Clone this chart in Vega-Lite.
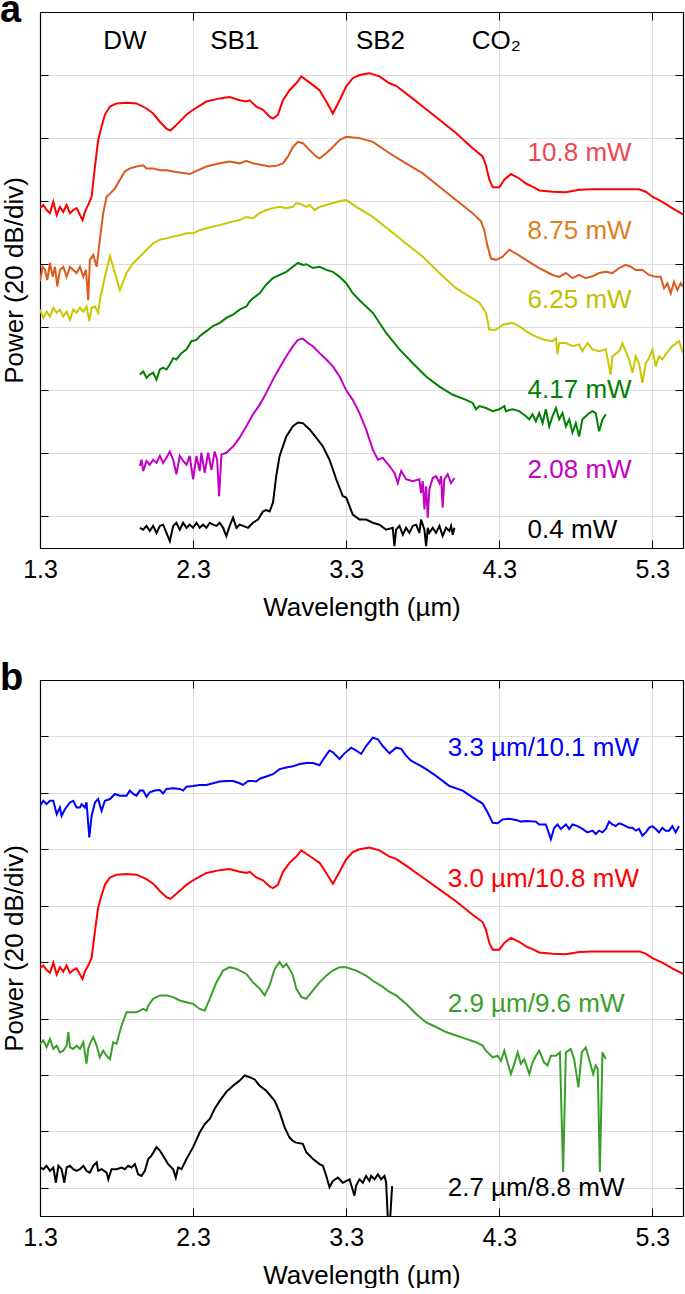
{
  "$schema": "https://vega.github.io/schema/vega-lite/v6.json",
  "background": "white",
  "padding": {"left": 0, "top": -8, "right": 2, "bottom": 0},
  "spacing": 40,
  "config": {
    "view": {"stroke": null},
    "font": "Liberation Sans",
    "axis": {
      "domainColor": "#000000", "domainWidth": 1.2,
      "tickColor": "#000000", "tickWidth": 1, "tickSize": -8,
      "gridColor": "#dedede", "gridWidth": 1,
      "labelFont": "Liberation Sans", "labelFontSize": 25, "labelColor": "#000000", "labelPadding": 17, "labelFlush": false,
      "titleFont": "Liberation Sans", "titleFontSize": 26, "titleFontWeight": "normal", "titleColor": "#000000"
    }
  },
  "datasets": {
    "a_curves": [
      {"wl":1.300,"p":4.89,"s":"10.8 mW"},{"wl":1.322,"p":4.94,"s":"10.8 mW"},{"wl":1.343,"p":4.86,"s":"10.8 mW"},{"wl":1.365,"p":4.81,"s":"10.8 mW"},{"wl":1.387,"p":4.99,"s":"10.8 mW"},{"wl":1.409,"p":4.78,"s":"10.8 mW"},{"wl":1.430,"p":4.91,"s":"10.8 mW"},{"wl":1.452,"p":4.83,"s":"10.8 mW"},{"wl":1.474,"p":4.94,"s":"10.8 mW"},{"wl":1.496,"p":4.81,"s":"10.8 mW"},{"wl":1.517,"p":4.86,"s":"10.8 mW"},{"wl":1.539,"p":4.89,"s":"10.8 mW"},{"wl":1.561,"p":4.78,"s":"10.8 mW"},{"wl":1.578,"p":4.70,"s":"10.8 mW"},{"wl":1.593,"p":4.83,"s":"10.8 mW"},{"wl":1.615,"p":4.94,"s":"10.8 mW"},{"wl":1.637,"p":5.07,"s":"10.8 mW"},{"wl":1.659,"p":5.55,"s":"10.8 mW"},{"wl":1.680,"p":5.97,"s":"10.8 mW"},{"wl":1.702,"p":6.18,"s":"10.8 mW"},{"wl":1.724,"p":6.37,"s":"10.8 mW"},{"wl":1.757,"p":6.50,"s":"10.8 mW"},{"wl":1.800,"p":6.55,"s":"10.8 mW"},{"wl":1.865,"p":6.56,"s":"10.8 mW"},{"wl":1.930,"p":6.55,"s":"10.8 mW"},{"wl":1.996,"p":6.47,"s":"10.8 mW"},{"wl":2.039,"p":6.39,"s":"10.8 mW"},{"wl":2.083,"p":6.26,"s":"10.8 mW"},{"wl":2.126,"p":6.15,"s":"10.8 mW"},{"wl":2.152,"p":6.12,"s":"10.8 mW"},{"wl":2.191,"p":6.21,"s":"10.8 mW"},{"wl":2.257,"p":6.37,"s":"10.8 mW"},{"wl":2.300,"p":6.45,"s":"10.8 mW"},{"wl":2.387,"p":6.58,"s":"10.8 mW"},{"wl":2.474,"p":6.63,"s":"10.8 mW"},{"wl":2.539,"p":6.65,"s":"10.8 mW"},{"wl":2.604,"p":6.60,"s":"10.8 mW"},{"wl":2.648,"p":6.58,"s":"10.8 mW"},{"wl":2.670,"p":6.60,"s":"10.8 mW"},{"wl":2.713,"p":6.50,"s":"10.8 mW"},{"wl":2.757,"p":6.45,"s":"10.8 mW"},{"wl":2.800,"p":6.34,"s":"10.8 mW"},{"wl":2.822,"p":6.31,"s":"10.8 mW"},{"wl":2.854,"p":6.37,"s":"10.8 mW"},{"wl":2.887,"p":6.60,"s":"10.8 mW"},{"wl":2.930,"p":6.76,"s":"10.8 mW"},{"wl":2.974,"p":6.87,"s":"10.8 mW"},{"wl":3.007,"p":6.98,"s":"10.8 mW"},{"wl":3.039,"p":6.92,"s":"10.8 mW"},{"wl":3.083,"p":6.84,"s":"10.8 mW"},{"wl":3.126,"p":6.76,"s":"10.8 mW"},{"wl":3.170,"p":6.58,"s":"10.8 mW"},{"wl":3.213,"p":6.39,"s":"10.8 mW"},{"wl":3.257,"p":6.60,"s":"10.8 mW"},{"wl":3.300,"p":6.82,"s":"10.8 mW"},{"wl":3.343,"p":6.95,"s":"10.8 mW"},{"wl":3.387,"p":7.00,"s":"10.8 mW"},{"wl":3.452,"p":7.03,"s":"10.8 mW"},{"wl":3.517,"p":6.98,"s":"10.8 mW"},{"wl":3.583,"p":6.87,"s":"10.8 mW"},{"wl":3.626,"p":6.83,"s":"10.8 mW"},{"wl":3.691,"p":6.71,"s":"10.8 mW"},{"wl":3.800,"p":6.50,"s":"10.8 mW"},{"wl":3.909,"p":6.29,"s":"10.8 mW"},{"wl":4.017,"p":6.08,"s":"10.8 mW"},{"wl":4.126,"p":5.84,"s":"10.8 mW"},{"wl":4.191,"p":5.71,"s":"10.8 mW"},{"wl":4.213,"p":5.57,"s":"10.8 mW"},{"wl":4.235,"p":5.34,"s":"10.8 mW"},{"wl":4.257,"p":5.22,"s":"10.8 mW"},{"wl":4.300,"p":5.22,"s":"10.8 mW"},{"wl":4.333,"p":5.34,"s":"10.8 mW"},{"wl":4.376,"p":5.43,"s":"10.8 mW"},{"wl":4.430,"p":5.36,"s":"10.8 mW"},{"wl":4.474,"p":5.28,"s":"10.8 mW"},{"wl":4.517,"p":5.23,"s":"10.8 mW"},{"wl":4.561,"p":5.17,"s":"10.8 mW"},{"wl":4.648,"p":5.15,"s":"10.8 mW"},{"wl":4.735,"p":5.14,"s":"10.8 mW"},{"wl":4.822,"p":5.18,"s":"10.8 mW"},{"wl":4.909,"p":5.19,"s":"10.8 mW"},{"wl":4.996,"p":5.19,"s":"10.8 mW"},{"wl":5.126,"p":5.19,"s":"10.8 mW"},{"wl":5.213,"p":5.19,"s":"10.8 mW"},{"wl":5.257,"p":5.15,"s":"10.8 mW"},{"wl":5.300,"p":5.07,"s":"10.8 mW"},{"wl":5.365,"p":4.99,"s":"10.8 mW"},{"wl":5.430,"p":4.89,"s":"10.8 mW"},{"wl":5.500,"p":4.79,"s":"10.8 mW"},

      {"wl":1.300,"p":3.73,"s":"8.75 mW"},{"wl":1.317,"p":3.96,"s":"8.75 mW"},{"wl":1.333,"p":3.91,"s":"8.75 mW"},{"wl":1.348,"p":3.75,"s":"8.75 mW"},{"wl":1.365,"p":4.02,"s":"8.75 mW"},{"wl":1.383,"p":3.80,"s":"8.75 mW"},{"wl":1.398,"p":3.96,"s":"8.75 mW"},{"wl":1.413,"p":3.65,"s":"8.75 mW"},{"wl":1.430,"p":3.91,"s":"8.75 mW"},{"wl":1.452,"p":3.96,"s":"8.75 mW"},{"wl":1.474,"p":3.80,"s":"8.75 mW"},{"wl":1.496,"p":3.96,"s":"8.75 mW"},{"wl":1.517,"p":3.91,"s":"8.75 mW"},{"wl":1.539,"p":3.86,"s":"8.75 mW"},{"wl":1.561,"p":3.96,"s":"8.75 mW"},{"wl":1.583,"p":3.80,"s":"8.75 mW"},{"wl":1.600,"p":3.91,"s":"8.75 mW"},{"wl":1.615,"p":3.43,"s":"8.75 mW"},{"wl":1.626,"p":4.07,"s":"8.75 mW"},{"wl":1.648,"p":4.15,"s":"8.75 mW"},{"wl":1.670,"p":3.96,"s":"8.75 mW"},{"wl":1.691,"p":4.39,"s":"8.75 mW"},{"wl":1.713,"p":4.81,"s":"8.75 mW"},{"wl":1.735,"p":5.07,"s":"8.75 mW"},{"wl":1.757,"p":5.12,"s":"8.75 mW"},{"wl":1.789,"p":5.20,"s":"8.75 mW"},{"wl":1.822,"p":5.34,"s":"8.75 mW"},{"wl":1.854,"p":5.47,"s":"8.75 mW"},{"wl":1.887,"p":5.52,"s":"8.75 mW"},{"wl":1.930,"p":5.55,"s":"8.75 mW"},{"wl":1.974,"p":5.57,"s":"8.75 mW"},{"wl":1.996,"p":5.52,"s":"8.75 mW"},{"wl":2.039,"p":5.52,"s":"8.75 mW"},{"wl":2.083,"p":5.49,"s":"8.75 mW"},{"wl":2.126,"p":5.49,"s":"8.75 mW"},{"wl":2.170,"p":5.47,"s":"8.75 mW"},{"wl":2.224,"p":5.45,"s":"8.75 mW"},{"wl":2.278,"p":5.43,"s":"8.75 mW"},{"wl":2.322,"p":5.48,"s":"8.75 mW"},{"wl":2.387,"p":5.55,"s":"8.75 mW"},{"wl":2.474,"p":5.60,"s":"8.75 mW"},{"wl":2.539,"p":5.63,"s":"8.75 mW"},{"wl":2.604,"p":5.60,"s":"8.75 mW"},{"wl":2.648,"p":5.64,"s":"8.75 mW"},{"wl":2.691,"p":5.60,"s":"8.75 mW"},{"wl":2.757,"p":5.57,"s":"8.75 mW"},{"wl":2.800,"p":5.55,"s":"8.75 mW"},{"wl":2.843,"p":5.56,"s":"8.75 mW"},{"wl":2.887,"p":5.60,"s":"8.75 mW"},{"wl":2.920,"p":5.71,"s":"8.75 mW"},{"wl":2.952,"p":5.86,"s":"8.75 mW"},{"wl":2.985,"p":5.94,"s":"8.75 mW"},{"wl":3.017,"p":5.92,"s":"8.75 mW"},{"wl":3.061,"p":5.81,"s":"8.75 mW"},{"wl":3.104,"p":5.71,"s":"8.75 mW"},{"wl":3.126,"p":5.68,"s":"8.75 mW"},{"wl":3.170,"p":5.76,"s":"8.75 mW"},{"wl":3.213,"p":5.86,"s":"8.75 mW"},{"wl":3.257,"p":5.97,"s":"8.75 mW"},{"wl":3.300,"p":6.02,"s":"8.75 mW"},{"wl":3.387,"p":6.00,"s":"8.75 mW"},{"wl":3.474,"p":5.94,"s":"8.75 mW"},{"wl":3.583,"p":5.76,"s":"8.75 mW"},{"wl":3.691,"p":5.60,"s":"8.75 mW"},{"wl":3.800,"p":5.44,"s":"8.75 mW"},{"wl":3.909,"p":5.23,"s":"8.75 mW"},{"wl":4.017,"p":5.02,"s":"8.75 mW"},{"wl":4.126,"p":4.81,"s":"8.75 mW"},{"wl":4.180,"p":4.68,"s":"8.75 mW"},{"wl":4.202,"p":4.54,"s":"8.75 mW"},{"wl":4.224,"p":4.28,"s":"8.75 mW"},{"wl":4.246,"p":4.09,"s":"8.75 mW"},{"wl":4.278,"p":4.07,"s":"8.75 mW"},{"wl":4.322,"p":4.12,"s":"8.75 mW"},{"wl":4.365,"p":4.23,"s":"8.75 mW"},{"wl":4.409,"p":4.17,"s":"8.75 mW"},{"wl":4.474,"p":4.07,"s":"8.75 mW"},{"wl":4.561,"p":3.94,"s":"8.75 mW"},{"wl":4.648,"p":3.83,"s":"8.75 mW"},{"wl":4.691,"p":3.80,"s":"8.75 mW"},{"wl":4.735,"p":3.86,"s":"8.75 mW"},{"wl":4.778,"p":3.78,"s":"8.75 mW"},{"wl":4.822,"p":3.83,"s":"8.75 mW"},{"wl":4.865,"p":3.78,"s":"8.75 mW"},{"wl":4.909,"p":3.81,"s":"8.75 mW"},{"wl":4.952,"p":3.86,"s":"8.75 mW"},{"wl":4.996,"p":3.88,"s":"8.75 mW"},{"wl":5.039,"p":3.86,"s":"8.75 mW"},{"wl":5.083,"p":3.94,"s":"8.75 mW"},{"wl":5.126,"p":3.99,"s":"8.75 mW"},{"wl":5.159,"p":3.96,"s":"8.75 mW"},{"wl":5.191,"p":3.91,"s":"8.75 mW"},{"wl":5.235,"p":3.91,"s":"8.75 mW"},{"wl":5.278,"p":3.83,"s":"8.75 mW"},{"wl":5.322,"p":3.80,"s":"8.75 mW"},{"wl":5.354,"p":3.80,"s":"8.75 mW"},{"wl":5.376,"p":3.62,"s":"8.75 mW"},{"wl":5.398,"p":3.70,"s":"8.75 mW"},{"wl":5.420,"p":3.54,"s":"8.75 mW"},{"wl":5.441,"p":3.72,"s":"8.75 mW"},{"wl":5.463,"p":3.59,"s":"8.75 mW"},{"wl":5.485,"p":3.70,"s":"8.75 mW"},{"wl":5.500,"p":3.65,"s":"8.75 mW"},

      {"wl":1.300,"p":3.28,"s":"6.25 mW"},{"wl":1.322,"p":3.15,"s":"6.25 mW"},{"wl":1.343,"p":3.25,"s":"6.25 mW"},{"wl":1.365,"p":3.17,"s":"6.25 mW"},{"wl":1.387,"p":3.31,"s":"6.25 mW"},{"wl":1.409,"p":3.23,"s":"6.25 mW"},{"wl":1.430,"p":3.28,"s":"6.25 mW"},{"wl":1.452,"p":3.17,"s":"6.25 mW"},{"wl":1.474,"p":3.25,"s":"6.25 mW"},{"wl":1.496,"p":3.12,"s":"6.25 mW"},{"wl":1.517,"p":3.28,"s":"6.25 mW"},{"wl":1.539,"p":3.23,"s":"6.25 mW"},{"wl":1.561,"p":3.31,"s":"6.25 mW"},{"wl":1.583,"p":3.25,"s":"6.25 mW"},{"wl":1.604,"p":3.33,"s":"6.25 mW"},{"wl":1.622,"p":3.10,"s":"6.25 mW"},{"wl":1.637,"p":3.31,"s":"6.25 mW"},{"wl":1.659,"p":3.33,"s":"6.25 mW"},{"wl":1.680,"p":3.23,"s":"6.25 mW"},{"wl":1.691,"p":3.43,"s":"6.25 mW"},{"wl":1.724,"p":3.80,"s":"6.25 mW"},{"wl":1.757,"p":4.13,"s":"6.25 mW"},{"wl":1.789,"p":3.86,"s":"6.25 mW"},{"wl":1.822,"p":3.59,"s":"6.25 mW"},{"wl":1.865,"p":3.86,"s":"6.25 mW"},{"wl":1.909,"p":4.02,"s":"6.25 mW"},{"wl":1.952,"p":4.12,"s":"6.25 mW"},{"wl":1.996,"p":4.23,"s":"6.25 mW"},{"wl":2.039,"p":4.33,"s":"6.25 mW"},{"wl":2.083,"p":4.39,"s":"6.25 mW"},{"wl":2.126,"p":4.41,"s":"6.25 mW"},{"wl":2.170,"p":4.44,"s":"6.25 mW"},{"wl":2.213,"p":4.46,"s":"6.25 mW"},{"wl":2.257,"p":4.49,"s":"6.25 mW"},{"wl":2.300,"p":4.49,"s":"6.25 mW"},{"wl":2.343,"p":4.54,"s":"6.25 mW"},{"wl":2.387,"p":4.57,"s":"6.25 mW"},{"wl":2.430,"p":4.60,"s":"6.25 mW"},{"wl":2.474,"p":4.62,"s":"6.25 mW"},{"wl":2.517,"p":4.65,"s":"6.25 mW"},{"wl":2.561,"p":4.68,"s":"6.25 mW"},{"wl":2.604,"p":4.70,"s":"6.25 mW"},{"wl":2.648,"p":4.75,"s":"6.25 mW"},{"wl":2.691,"p":4.73,"s":"6.25 mW"},{"wl":2.735,"p":4.81,"s":"6.25 mW"},{"wl":2.778,"p":4.86,"s":"6.25 mW"},{"wl":2.822,"p":4.89,"s":"6.25 mW"},{"wl":2.865,"p":4.91,"s":"6.25 mW"},{"wl":2.909,"p":4.89,"s":"6.25 mW"},{"wl":2.952,"p":4.91,"s":"6.25 mW"},{"wl":2.974,"p":4.97,"s":"6.25 mW"},{"wl":2.996,"p":4.96,"s":"6.25 mW"},{"wl":3.039,"p":4.91,"s":"6.25 mW"},{"wl":3.061,"p":4.94,"s":"6.25 mW"},{"wl":3.093,"p":4.86,"s":"6.25 mW"},{"wl":3.126,"p":4.91,"s":"6.25 mW"},{"wl":3.170,"p":4.94,"s":"6.25 mW"},{"wl":3.213,"p":4.97,"s":"6.25 mW"},{"wl":3.257,"p":5.00,"s":"6.25 mW"},{"wl":3.300,"p":5.02,"s":"6.25 mW"},{"wl":3.365,"p":4.91,"s":"6.25 mW"},{"wl":3.474,"p":4.75,"s":"6.25 mW"},{"wl":3.583,"p":4.54,"s":"6.25 mW"},{"wl":3.691,"p":4.33,"s":"6.25 mW"},{"wl":3.800,"p":4.12,"s":"6.25 mW"},{"wl":3.909,"p":3.86,"s":"6.25 mW"},{"wl":4.017,"p":3.62,"s":"6.25 mW"},{"wl":4.170,"p":3.39,"s":"6.25 mW"},{"wl":4.213,"p":3.23,"s":"6.25 mW"},{"wl":4.235,"p":2.96,"s":"6.25 mW"},{"wl":4.278,"p":2.96,"s":"6.25 mW"},{"wl":4.322,"p":3.04,"s":"6.25 mW"},{"wl":4.387,"p":3.07,"s":"6.25 mW"},{"wl":4.430,"p":3.02,"s":"6.25 mW"},{"wl":4.474,"p":2.94,"s":"6.25 mW"},{"wl":4.517,"p":2.88,"s":"6.25 mW"},{"wl":4.561,"p":2.83,"s":"6.25 mW"},{"wl":4.604,"p":2.80,"s":"6.25 mW"},{"wl":4.648,"p":2.78,"s":"6.25 mW"},{"wl":4.670,"p":2.83,"s":"6.25 mW"},{"wl":4.680,"p":2.57,"s":"6.25 mW"},{"wl":4.691,"p":2.75,"s":"6.25 mW"},{"wl":4.735,"p":2.75,"s":"6.25 mW"},{"wl":4.778,"p":2.70,"s":"6.25 mW"},{"wl":4.822,"p":2.73,"s":"6.25 mW"},{"wl":4.843,"p":2.62,"s":"6.25 mW"},{"wl":4.876,"p":2.75,"s":"6.25 mW"},{"wl":4.909,"p":2.65,"s":"6.25 mW"},{"wl":4.952,"p":2.62,"s":"6.25 mW"},{"wl":4.996,"p":2.65,"s":"6.25 mW"},{"wl":5.017,"p":2.38,"s":"6.25 mW"},{"wl":5.028,"p":2.25,"s":"6.25 mW"},{"wl":5.039,"p":2.54,"s":"6.25 mW"},{"wl":5.083,"p":2.62,"s":"6.25 mW"},{"wl":5.104,"p":2.75,"s":"6.25 mW"},{"wl":5.126,"p":2.62,"s":"6.25 mW"},{"wl":5.148,"p":2.49,"s":"6.25 mW"},{"wl":5.170,"p":2.28,"s":"6.25 mW"},{"wl":5.191,"p":2.54,"s":"6.25 mW"},{"wl":5.213,"p":2.43,"s":"6.25 mW"},{"wl":5.235,"p":2.12,"s":"6.25 mW"},{"wl":5.257,"p":2.43,"s":"6.25 mW"},{"wl":5.278,"p":2.51,"s":"6.25 mW"},{"wl":5.300,"p":2.65,"s":"6.25 mW"},{"wl":5.322,"p":2.38,"s":"6.25 mW"},{"wl":5.343,"p":2.54,"s":"6.25 mW"},{"wl":5.365,"p":2.49,"s":"6.25 mW"},{"wl":5.387,"p":2.57,"s":"6.25 mW"},{"wl":5.430,"p":2.70,"s":"6.25 mW"},{"wl":5.474,"p":2.78,"s":"6.25 mW"},{"wl":5.500,"p":2.59,"s":"6.25 mW"},

      {"wl":1.952,"p":2.25,"s":"4.17 mW"},{"wl":1.974,"p":2.30,"s":"4.17 mW"},{"wl":1.996,"p":2.20,"s":"4.17 mW"},{"wl":2.017,"p":2.25,"s":"4.17 mW"},{"wl":2.039,"p":2.28,"s":"4.17 mW"},{"wl":2.061,"p":2.17,"s":"4.17 mW"},{"wl":2.083,"p":2.33,"s":"4.17 mW"},{"wl":2.104,"p":2.36,"s":"4.17 mW"},{"wl":2.126,"p":2.33,"s":"4.17 mW"},{"wl":2.148,"p":2.41,"s":"4.17 mW"},{"wl":2.170,"p":2.51,"s":"4.17 mW"},{"wl":2.191,"p":2.49,"s":"4.17 mW"},{"wl":2.224,"p":2.59,"s":"4.17 mW"},{"wl":2.257,"p":2.65,"s":"4.17 mW"},{"wl":2.289,"p":2.78,"s":"4.17 mW"},{"wl":2.322,"p":2.80,"s":"4.17 mW"},{"wl":2.343,"p":2.86,"s":"4.17 mW"},{"wl":2.387,"p":2.94,"s":"4.17 mW"},{"wl":2.430,"p":3.02,"s":"4.17 mW"},{"wl":2.474,"p":3.07,"s":"4.17 mW"},{"wl":2.517,"p":3.15,"s":"4.17 mW"},{"wl":2.561,"p":3.20,"s":"4.17 mW"},{"wl":2.604,"p":3.28,"s":"4.17 mW"},{"wl":2.648,"p":3.33,"s":"4.17 mW"},{"wl":2.670,"p":3.41,"s":"4.17 mW"},{"wl":2.691,"p":3.46,"s":"4.17 mW"},{"wl":2.735,"p":3.54,"s":"4.17 mW"},{"wl":2.778,"p":3.68,"s":"4.17 mW"},{"wl":2.822,"p":3.78,"s":"4.17 mW"},{"wl":2.865,"p":3.83,"s":"4.17 mW"},{"wl":2.909,"p":3.88,"s":"4.17 mW"},{"wl":2.952,"p":3.96,"s":"4.17 mW"},{"wl":2.985,"p":4.02,"s":"4.17 mW"},{"wl":3.017,"p":3.99,"s":"4.17 mW"},{"wl":3.039,"p":4.00,"s":"4.17 mW"},{"wl":3.083,"p":3.94,"s":"4.17 mW"},{"wl":3.126,"p":3.96,"s":"4.17 mW"},{"wl":3.170,"p":3.91,"s":"4.17 mW"},{"wl":3.213,"p":3.88,"s":"4.17 mW"},{"wl":3.257,"p":3.80,"s":"4.17 mW"},{"wl":3.300,"p":3.70,"s":"4.17 mW"},{"wl":3.343,"p":3.54,"s":"4.17 mW"},{"wl":3.387,"p":3.43,"s":"4.17 mW"},{"wl":3.474,"p":3.23,"s":"4.17 mW"},{"wl":3.561,"p":2.91,"s":"4.17 mW"},{"wl":3.648,"p":2.65,"s":"4.17 mW"},{"wl":3.735,"p":2.43,"s":"4.17 mW"},{"wl":3.822,"p":2.22,"s":"4.17 mW"},{"wl":3.909,"p":2.06,"s":"4.17 mW"},{"wl":3.996,"p":1.93,"s":"4.17 mW"},{"wl":4.083,"p":1.85,"s":"4.17 mW"},{"wl":4.126,"p":1.80,"s":"4.17 mW"},{"wl":4.148,"p":1.70,"s":"4.17 mW"},{"wl":4.170,"p":1.75,"s":"4.17 mW"},{"wl":4.213,"p":1.72,"s":"4.17 mW"},{"wl":4.257,"p":1.67,"s":"4.17 mW"},{"wl":4.300,"p":1.70,"s":"4.17 mW"},{"wl":4.333,"p":1.75,"s":"4.17 mW"},{"wl":4.343,"p":1.67,"s":"4.17 mW"},{"wl":4.387,"p":1.70,"s":"4.17 mW"},{"wl":4.430,"p":1.67,"s":"4.17 mW"},{"wl":4.474,"p":1.59,"s":"4.17 mW"},{"wl":4.496,"p":1.54,"s":"4.17 mW"},{"wl":4.517,"p":1.62,"s":"4.17 mW"},{"wl":4.539,"p":1.51,"s":"4.17 mW"},{"wl":4.561,"p":1.64,"s":"4.17 mW"},{"wl":4.583,"p":1.48,"s":"4.17 mW"},{"wl":4.604,"p":1.70,"s":"4.17 mW"},{"wl":4.626,"p":1.43,"s":"4.17 mW"},{"wl":4.648,"p":1.59,"s":"4.17 mW"},{"wl":4.670,"p":1.72,"s":"4.17 mW"},{"wl":4.691,"p":1.54,"s":"4.17 mW"},{"wl":4.713,"p":1.64,"s":"4.17 mW"},{"wl":4.735,"p":1.43,"s":"4.17 mW"},{"wl":4.757,"p":1.54,"s":"4.17 mW"},{"wl":4.778,"p":1.33,"s":"4.17 mW"},{"wl":4.800,"p":1.48,"s":"4.17 mW"},{"wl":4.822,"p":1.27,"s":"4.17 mW"},{"wl":4.843,"p":1.54,"s":"4.17 mW"},{"wl":4.865,"p":1.59,"s":"4.17 mW"},{"wl":4.887,"p":1.64,"s":"4.17 mW"},{"wl":4.909,"p":1.67,"s":"4.17 mW"},{"wl":4.930,"p":1.64,"s":"4.17 mW"},{"wl":4.952,"p":1.35,"s":"4.17 mW"},{"wl":4.974,"p":1.54,"s":"4.17 mW"},{"wl":4.996,"p":1.62,"s":"4.17 mW"},

      {"wl":1.952,"p":0.80,"s":"2.08 mW"},{"wl":1.963,"p":0.90,"s":"2.08 mW"},{"wl":1.974,"p":0.72,"s":"2.08 mW"},{"wl":1.996,"p":0.88,"s":"2.08 mW"},{"wl":2.017,"p":0.82,"s":"2.08 mW"},{"wl":2.039,"p":0.90,"s":"2.08 mW"},{"wl":2.061,"p":0.85,"s":"2.08 mW"},{"wl":2.083,"p":0.96,"s":"2.08 mW"},{"wl":2.104,"p":0.85,"s":"2.08 mW"},{"wl":2.126,"p":0.93,"s":"2.08 mW"},{"wl":2.148,"p":1.03,"s":"2.08 mW"},{"wl":2.170,"p":0.90,"s":"2.08 mW"},{"wl":2.191,"p":0.67,"s":"2.08 mW"},{"wl":2.213,"p":0.96,"s":"2.08 mW"},{"wl":2.235,"p":0.88,"s":"2.08 mW"},{"wl":2.257,"p":0.82,"s":"2.08 mW"},{"wl":2.278,"p":0.96,"s":"2.08 mW"},{"wl":2.300,"p":0.59,"s":"2.08 mW"},{"wl":2.322,"p":0.96,"s":"2.08 mW"},{"wl":2.343,"p":0.72,"s":"2.08 mW"},{"wl":2.354,"p":1.01,"s":"2.08 mW"},{"wl":2.376,"p":0.69,"s":"2.08 mW"},{"wl":2.398,"p":1.01,"s":"2.08 mW"},{"wl":2.420,"p":0.74,"s":"2.08 mW"},{"wl":2.441,"p":1.03,"s":"2.08 mW"},{"wl":2.457,"p":0.90,"s":"2.08 mW"},{"wl":2.470,"p":0.32,"s":"2.08 mW"},{"wl":2.485,"p":0.98,"s":"2.08 mW"},{"wl":2.517,"p":1.01,"s":"2.08 mW"},{"wl":2.561,"p":1.11,"s":"2.08 mW"},{"wl":2.604,"p":1.25,"s":"2.08 mW"},{"wl":2.648,"p":1.43,"s":"2.08 mW"},{"wl":2.691,"p":1.62,"s":"2.08 mW"},{"wl":2.735,"p":1.77,"s":"2.08 mW"},{"wl":2.778,"p":1.96,"s":"2.08 mW"},{"wl":2.822,"p":2.17,"s":"2.08 mW"},{"wl":2.865,"p":2.36,"s":"2.08 mW"},{"wl":2.909,"p":2.54,"s":"2.08 mW"},{"wl":2.952,"p":2.70,"s":"2.08 mW"},{"wl":2.985,"p":2.80,"s":"2.08 mW"},{"wl":3.017,"p":2.82,"s":"2.08 mW"},{"wl":3.050,"p":2.75,"s":"2.08 mW"},{"wl":3.083,"p":2.70,"s":"2.08 mW"},{"wl":3.126,"p":2.59,"s":"2.08 mW"},{"wl":3.170,"p":2.49,"s":"2.08 mW"},{"wl":3.213,"p":2.38,"s":"2.08 mW"},{"wl":3.257,"p":2.22,"s":"2.08 mW"},{"wl":3.300,"p":2.00,"s":"2.08 mW"},{"wl":3.343,"p":1.85,"s":"2.08 mW"},{"wl":3.387,"p":1.64,"s":"2.08 mW"},{"wl":3.430,"p":1.38,"s":"2.08 mW"},{"wl":3.474,"p":1.06,"s":"2.08 mW"},{"wl":3.507,"p":0.90,"s":"2.08 mW"},{"wl":3.539,"p":0.93,"s":"2.08 mW"},{"wl":3.583,"p":0.80,"s":"2.08 mW"},{"wl":3.615,"p":0.69,"s":"2.08 mW"},{"wl":3.637,"p":0.53,"s":"2.08 mW"},{"wl":3.659,"p":0.72,"s":"2.08 mW"},{"wl":3.691,"p":0.59,"s":"2.08 mW"},{"wl":3.735,"p":0.56,"s":"2.08 mW"},{"wl":3.778,"p":0.59,"s":"2.08 mW"},{"wl":3.789,"p":0.37,"s":"2.08 mW"},{"wl":3.800,"p":0.56,"s":"2.08 mW"},{"wl":3.811,"p":0.11,"s":"2.08 mW"},{"wl":3.822,"p":0.48,"s":"2.08 mW"},{"wl":3.833,"p":-0.02,"s":"2.08 mW"},{"wl":3.843,"p":0.43,"s":"2.08 mW"},{"wl":3.865,"p":0.61,"s":"2.08 mW"},{"wl":3.887,"p":0.64,"s":"2.08 mW"},{"wl":3.909,"p":0.53,"s":"2.08 mW"},{"wl":3.920,"p":0.64,"s":"2.08 mW"},{"wl":3.930,"p":0.14,"s":"2.08 mW"},{"wl":3.941,"p":0.59,"s":"2.08 mW"},{"wl":3.963,"p":0.67,"s":"2.08 mW"},{"wl":3.985,"p":0.53,"s":"2.08 mW"},{"wl":4.007,"p":0.61,"s":"2.08 mW"},

      {"wl":1.952,"p":-0.18,"s":"0.4 mW"},{"wl":1.974,"p":-0.21,"s":"0.4 mW"},{"wl":1.996,"p":-0.15,"s":"0.4 mW"},{"wl":2.017,"p":-0.23,"s":"0.4 mW"},{"wl":2.039,"p":-0.15,"s":"0.4 mW"},{"wl":2.061,"p":-0.26,"s":"0.4 mW"},{"wl":2.083,"p":-0.15,"s":"0.4 mW"},{"wl":2.104,"p":-0.13,"s":"0.4 mW"},{"wl":2.126,"p":-0.26,"s":"0.4 mW"},{"wl":2.148,"p":-0.39,"s":"0.4 mW"},{"wl":2.170,"p":-0.15,"s":"0.4 mW"},{"wl":2.191,"p":-0.10,"s":"0.4 mW"},{"wl":2.213,"p":-0.21,"s":"0.4 mW"},{"wl":2.235,"p":-0.10,"s":"0.4 mW"},{"wl":2.257,"p":-0.18,"s":"0.4 mW"},{"wl":2.278,"p":-0.13,"s":"0.4 mW"},{"wl":2.300,"p":-0.18,"s":"0.4 mW"},{"wl":2.322,"p":-0.10,"s":"0.4 mW"},{"wl":2.343,"p":-0.18,"s":"0.4 mW"},{"wl":2.365,"p":-0.13,"s":"0.4 mW"},{"wl":2.387,"p":-0.18,"s":"0.4 mW"},{"wl":2.409,"p":-0.10,"s":"0.4 mW"},{"wl":2.430,"p":-0.13,"s":"0.4 mW"},{"wl":2.452,"p":-0.15,"s":"0.4 mW"},{"wl":2.474,"p":-0.10,"s":"0.4 mW"},{"wl":2.496,"p":-0.18,"s":"0.4 mW"},{"wl":2.517,"p":-0.31,"s":"0.4 mW"},{"wl":2.539,"p":-0.15,"s":"0.4 mW"},{"wl":2.561,"p":-0.02,"s":"0.4 mW"},{"wl":2.583,"p":-0.18,"s":"0.4 mW"},{"wl":2.604,"p":-0.13,"s":"0.4 mW"},{"wl":2.626,"p":-0.15,"s":"0.4 mW"},{"wl":2.659,"p":-0.18,"s":"0.4 mW"},{"wl":2.691,"p":-0.10,"s":"0.4 mW"},{"wl":2.724,"p":-0.05,"s":"0.4 mW"},{"wl":2.757,"p":0.08,"s":"0.4 mW"},{"wl":2.778,"p":0.10,"s":"0.4 mW"},{"wl":2.800,"p":0.08,"s":"0.4 mW"},{"wl":2.822,"p":0.22,"s":"0.4 mW"},{"wl":2.843,"p":0.64,"s":"0.4 mW"},{"wl":2.865,"p":0.96,"s":"0.4 mW"},{"wl":2.909,"p":1.27,"s":"0.4 mW"},{"wl":2.952,"p":1.43,"s":"0.4 mW"},{"wl":2.985,"p":1.49,"s":"0.4 mW"},{"wl":3.017,"p":1.48,"s":"0.4 mW"},{"wl":3.061,"p":1.38,"s":"0.4 mW"},{"wl":3.104,"p":1.25,"s":"0.4 mW"},{"wl":3.148,"p":1.11,"s":"0.4 mW"},{"wl":3.191,"p":0.90,"s":"0.4 mW"},{"wl":3.235,"p":0.59,"s":"0.4 mW"},{"wl":3.278,"p":0.32,"s":"0.4 mW"},{"wl":3.300,"p":0.30,"s":"0.4 mW"},{"wl":3.343,"p":0.03,"s":"0.4 mW"},{"wl":3.387,"p":-0.05,"s":"0.4 mW"},{"wl":3.430,"p":-0.05,"s":"0.4 mW"},{"wl":3.474,"p":-0.10,"s":"0.4 mW"},{"wl":3.517,"p":-0.13,"s":"0.4 mW"},{"wl":3.561,"p":-0.21,"s":"0.4 mW"},{"wl":3.604,"p":-0.18,"s":"0.4 mW"},{"wl":3.615,"p":-0.47,"s":"0.4 mW"},{"wl":3.626,"p":-0.21,"s":"0.4 mW"},{"wl":3.648,"p":-0.15,"s":"0.4 mW"},{"wl":3.670,"p":-0.29,"s":"0.4 mW"},{"wl":3.691,"p":-0.18,"s":"0.4 mW"},{"wl":3.713,"p":-0.26,"s":"0.4 mW"},{"wl":3.735,"p":-0.15,"s":"0.4 mW"},{"wl":3.757,"p":-0.13,"s":"0.4 mW"},{"wl":3.778,"p":-0.26,"s":"0.4 mW"},{"wl":3.789,"p":-0.05,"s":"0.4 mW"},{"wl":3.811,"p":-0.21,"s":"0.4 mW"},{"wl":3.822,"p":-0.47,"s":"0.4 mW"},{"wl":3.833,"p":-0.18,"s":"0.4 mW"},{"wl":3.843,"p":-0.26,"s":"0.4 mW"},{"wl":3.865,"p":-0.18,"s":"0.4 mW"},{"wl":3.887,"p":-0.26,"s":"0.4 mW"},{"wl":3.909,"p":-0.15,"s":"0.4 mW"},{"wl":3.930,"p":-0.31,"s":"0.4 mW"},{"wl":3.952,"p":-0.18,"s":"0.4 mW"},{"wl":3.974,"p":-0.23,"s":"0.4 mW"},{"wl":3.985,"p":-0.15,"s":"0.4 mW"},{"wl":3.996,"p":-0.29,"s":"0.4 mW"},{"wl":4.007,"p":-0.18,"s":"0.4 mW"}
    ],
    "a_labels": [
      {"wl":4.485,"p":5.76,"t":"10.8 mW"},
      {"wl":4.485,"p":4.52,"t":"8.75 mW"},
      {"wl":4.485,"p":3.43,"t":"6.25 mW"},
      {"wl":4.485,"p":2.00,"t":"4.17 mW"},
      {"wl":4.485,"p":0.73,"t":"2.08 mW"},
      {"wl":4.485,"p":-0.22,"t":"0.4 mW"}
    ],
    "a_notes": [
      {"wl":1.854,"p":7.54,"t":"DW"},
      {"wl":2.572,"p":7.54,"t":"SB1"},
      {"wl":3.524,"p":7.54,"t":"SB2"},
      {"wl":4.280,"p":7.54,"t":"CO₂"}
    ],
    "a_letter": [
      {"wl":1.039,"p":7.84,"t":"a"}
    ],
    "b_curves": [
      {"wl":1.300,"p":6.77,"s":"3.3 µm/10.1 mW"},{"wl":1.322,"p":6.86,"s":"3.3 µm/10.1 mW"},{"wl":1.343,"p":6.80,"s":"3.3 µm/10.1 mW"},{"wl":1.365,"p":6.86,"s":"3.3 µm/10.1 mW"},{"wl":1.387,"p":6.86,"s":"3.3 µm/10.1 mW"},{"wl":1.409,"p":6.62,"s":"3.3 µm/10.1 mW"},{"wl":1.430,"p":6.74,"s":"3.3 µm/10.1 mW"},{"wl":1.441,"p":6.59,"s":"3.3 µm/10.1 mW"},{"wl":1.463,"p":6.71,"s":"3.3 µm/10.1 mW"},{"wl":1.496,"p":6.83,"s":"3.3 µm/10.1 mW"},{"wl":1.517,"p":6.86,"s":"3.3 µm/10.1 mW"},{"wl":1.539,"p":6.74,"s":"3.3 µm/10.1 mW"},{"wl":1.561,"p":6.74,"s":"3.3 µm/10.1 mW"},{"wl":1.572,"p":6.80,"s":"3.3 µm/10.1 mW"},{"wl":1.593,"p":6.74,"s":"3.3 µm/10.1 mW"},{"wl":1.604,"p":6.83,"s":"3.3 µm/10.1 mW"},{"wl":1.622,"p":6.21,"s":"3.3 µm/10.1 mW"},{"wl":1.637,"p":6.59,"s":"3.3 µm/10.1 mW"},{"wl":1.659,"p":6.83,"s":"3.3 µm/10.1 mW"},{"wl":1.680,"p":6.89,"s":"3.3 µm/10.1 mW"},{"wl":1.702,"p":6.68,"s":"3.3 µm/10.1 mW"},{"wl":1.724,"p":6.86,"s":"3.3 µm/10.1 mW"},{"wl":1.757,"p":6.89,"s":"3.3 µm/10.1 mW"},{"wl":1.789,"p":6.98,"s":"3.3 µm/10.1 mW"},{"wl":1.822,"p":6.95,"s":"3.3 µm/10.1 mW"},{"wl":1.865,"p":6.95,"s":"3.3 µm/10.1 mW"},{"wl":1.887,"p":7.04,"s":"3.3 µm/10.1 mW"},{"wl":1.909,"p":6.98,"s":"3.3 µm/10.1 mW"},{"wl":1.930,"p":6.95,"s":"3.3 µm/10.1 mW"},{"wl":1.952,"p":7.04,"s":"3.3 µm/10.1 mW"},{"wl":1.974,"p":7.04,"s":"3.3 µm/10.1 mW"},{"wl":1.996,"p":6.93,"s":"3.3 µm/10.1 mW"},{"wl":2.017,"p":7.01,"s":"3.3 µm/10.1 mW"},{"wl":2.050,"p":7.04,"s":"3.3 µm/10.1 mW"},{"wl":2.083,"p":7.05,"s":"3.3 µm/10.1 mW"},{"wl":2.104,"p":6.99,"s":"3.3 µm/10.1 mW"},{"wl":2.126,"p":7.07,"s":"3.3 µm/10.1 mW"},{"wl":2.170,"p":7.08,"s":"3.3 µm/10.1 mW"},{"wl":2.213,"p":7.07,"s":"3.3 µm/10.1 mW"},{"wl":2.235,"p":7.04,"s":"3.3 µm/10.1 mW"},{"wl":2.257,"p":7.11,"s":"3.3 µm/10.1 mW"},{"wl":2.300,"p":7.12,"s":"3.3 µm/10.1 mW"},{"wl":2.343,"p":7.14,"s":"3.3 µm/10.1 mW"},{"wl":2.387,"p":7.14,"s":"3.3 µm/10.1 mW"},{"wl":2.430,"p":7.17,"s":"3.3 µm/10.1 mW"},{"wl":2.474,"p":7.20,"s":"3.3 µm/10.1 mW"},{"wl":2.517,"p":7.21,"s":"3.3 µm/10.1 mW"},{"wl":2.561,"p":7.21,"s":"3.3 µm/10.1 mW"},{"wl":2.604,"p":7.17,"s":"3.3 µm/10.1 mW"},{"wl":2.626,"p":7.14,"s":"3.3 µm/10.1 mW"},{"wl":2.659,"p":7.21,"s":"3.3 µm/10.1 mW"},{"wl":2.691,"p":7.21,"s":"3.3 µm/10.1 mW"},{"wl":2.713,"p":7.20,"s":"3.3 µm/10.1 mW"},{"wl":2.735,"p":7.25,"s":"3.3 µm/10.1 mW"},{"wl":2.778,"p":7.29,"s":"3.3 µm/10.1 mW"},{"wl":2.822,"p":7.33,"s":"3.3 µm/10.1 mW"},{"wl":2.865,"p":7.42,"s":"3.3 µm/10.1 mW"},{"wl":2.909,"p":7.45,"s":"3.3 µm/10.1 mW"},{"wl":2.952,"p":7.47,"s":"3.3 µm/10.1 mW"},{"wl":2.996,"p":7.51,"s":"3.3 µm/10.1 mW"},{"wl":3.039,"p":7.53,"s":"3.3 µm/10.1 mW"},{"wl":3.083,"p":7.53,"s":"3.3 µm/10.1 mW"},{"wl":3.126,"p":7.49,"s":"3.3 µm/10.1 mW"},{"wl":3.159,"p":7.63,"s":"3.3 µm/10.1 mW"},{"wl":3.191,"p":7.75,"s":"3.3 µm/10.1 mW"},{"wl":3.213,"p":7.72,"s":"3.3 µm/10.1 mW"},{"wl":3.257,"p":7.60,"s":"3.3 µm/10.1 mW"},{"wl":3.289,"p":7.70,"s":"3.3 µm/10.1 mW"},{"wl":3.333,"p":7.80,"s":"3.3 µm/10.1 mW"},{"wl":3.365,"p":7.75,"s":"3.3 µm/10.1 mW"},{"wl":3.398,"p":7.69,"s":"3.3 µm/10.1 mW"},{"wl":3.430,"p":7.83,"s":"3.3 µm/10.1 mW"},{"wl":3.474,"p":7.98,"s":"3.3 µm/10.1 mW"},{"wl":3.507,"p":7.95,"s":"3.3 µm/10.1 mW"},{"wl":3.539,"p":7.83,"s":"3.3 µm/10.1 mW"},{"wl":3.583,"p":7.70,"s":"3.3 µm/10.1 mW"},{"wl":3.626,"p":7.80,"s":"3.3 µm/10.1 mW"},{"wl":3.659,"p":7.78,"s":"3.3 µm/10.1 mW"},{"wl":3.691,"p":7.66,"s":"3.3 µm/10.1 mW"},{"wl":3.724,"p":7.57,"s":"3.3 µm/10.1 mW"},{"wl":3.778,"p":7.49,"s":"3.3 µm/10.1 mW"},{"wl":3.822,"p":7.42,"s":"3.3 µm/10.1 mW"},{"wl":3.887,"p":7.30,"s":"3.3 µm/10.1 mW"},{"wl":3.974,"p":7.12,"s":"3.3 µm/10.1 mW"},{"wl":4.061,"p":7.04,"s":"3.3 µm/10.1 mW"},{"wl":4.126,"p":6.92,"s":"3.3 µm/10.1 mW"},{"wl":4.191,"p":6.81,"s":"3.3 µm/10.1 mW"},{"wl":4.224,"p":6.65,"s":"3.3 µm/10.1 mW"},{"wl":4.257,"p":6.47,"s":"3.3 µm/10.1 mW"},{"wl":4.289,"p":6.46,"s":"3.3 µm/10.1 mW"},{"wl":4.322,"p":6.53,"s":"3.3 µm/10.1 mW"},{"wl":4.365,"p":6.54,"s":"3.3 µm/10.1 mW"},{"wl":4.409,"p":6.52,"s":"3.3 µm/10.1 mW"},{"wl":4.441,"p":6.49,"s":"3.3 µm/10.1 mW"},{"wl":4.474,"p":6.50,"s":"3.3 µm/10.1 mW"},{"wl":4.539,"p":6.49,"s":"3.3 µm/10.1 mW"},{"wl":4.561,"p":6.44,"s":"3.3 µm/10.1 mW"},{"wl":4.604,"p":6.44,"s":"3.3 µm/10.1 mW"},{"wl":4.637,"p":6.18,"s":"3.3 µm/10.1 mW"},{"wl":4.659,"p":6.38,"s":"3.3 µm/10.1 mW"},{"wl":4.680,"p":6.44,"s":"3.3 µm/10.1 mW"},{"wl":4.702,"p":6.36,"s":"3.3 µm/10.1 mW"},{"wl":4.735,"p":6.44,"s":"3.3 µm/10.1 mW"},{"wl":4.757,"p":6.36,"s":"3.3 µm/10.1 mW"},{"wl":4.778,"p":6.44,"s":"3.3 µm/10.1 mW"},{"wl":4.811,"p":6.41,"s":"3.3 µm/10.1 mW"},{"wl":4.843,"p":6.36,"s":"3.3 µm/10.1 mW"},{"wl":4.876,"p":6.30,"s":"3.3 µm/10.1 mW"},{"wl":4.909,"p":6.33,"s":"3.3 µm/10.1 mW"},{"wl":4.930,"p":6.27,"s":"3.3 µm/10.1 mW"},{"wl":4.952,"p":6.33,"s":"3.3 µm/10.1 mW"},{"wl":4.974,"p":6.30,"s":"3.3 µm/10.1 mW"},{"wl":4.996,"p":6.36,"s":"3.3 µm/10.1 mW"},{"wl":5.017,"p":6.49,"s":"3.3 µm/10.1 mW"},{"wl":5.039,"p":6.44,"s":"3.3 µm/10.1 mW"},{"wl":5.061,"p":6.41,"s":"3.3 µm/10.1 mW"},{"wl":5.083,"p":6.46,"s":"3.3 µm/10.1 mW"},{"wl":5.104,"p":6.44,"s":"3.3 µm/10.1 mW"},{"wl":5.126,"p":6.41,"s":"3.3 µm/10.1 mW"},{"wl":5.148,"p":6.38,"s":"3.3 µm/10.1 mW"},{"wl":5.170,"p":6.38,"s":"3.3 µm/10.1 mW"},{"wl":5.191,"p":6.33,"s":"3.3 µm/10.1 mW"},{"wl":5.213,"p":6.36,"s":"3.3 µm/10.1 mW"},{"wl":5.235,"p":6.24,"s":"3.3 µm/10.1 mW"},{"wl":5.257,"p":6.30,"s":"3.3 µm/10.1 mW"},{"wl":5.278,"p":6.38,"s":"3.3 µm/10.1 mW"},{"wl":5.300,"p":6.41,"s":"3.3 µm/10.1 mW"},{"wl":5.322,"p":6.36,"s":"3.3 µm/10.1 mW"},{"wl":5.343,"p":6.30,"s":"3.3 µm/10.1 mW"},{"wl":5.365,"p":6.38,"s":"3.3 µm/10.1 mW"},{"wl":5.387,"p":6.33,"s":"3.3 µm/10.1 mW"},{"wl":5.409,"p":6.33,"s":"3.3 µm/10.1 mW"},{"wl":5.430,"p":6.41,"s":"3.3 µm/10.1 mW"},{"wl":5.452,"p":6.30,"s":"3.3 µm/10.1 mW"},{"wl":5.474,"p":6.41,"s":"3.3 µm/10.1 mW"},

      {"wl":1.300,"p":3.89,"s":"3.0 µm/10.8 mW"},{"wl":1.322,"p":3.94,"s":"3.0 µm/10.8 mW"},{"wl":1.343,"p":3.86,"s":"3.0 µm/10.8 mW"},{"wl":1.365,"p":3.81,"s":"3.0 µm/10.8 mW"},{"wl":1.387,"p":3.99,"s":"3.0 µm/10.8 mW"},{"wl":1.409,"p":3.78,"s":"3.0 µm/10.8 mW"},{"wl":1.430,"p":3.91,"s":"3.0 µm/10.8 mW"},{"wl":1.452,"p":3.83,"s":"3.0 µm/10.8 mW"},{"wl":1.474,"p":3.94,"s":"3.0 µm/10.8 mW"},{"wl":1.496,"p":3.81,"s":"3.0 µm/10.8 mW"},{"wl":1.517,"p":3.86,"s":"3.0 µm/10.8 mW"},{"wl":1.539,"p":3.89,"s":"3.0 µm/10.8 mW"},{"wl":1.561,"p":3.78,"s":"3.0 µm/10.8 mW"},{"wl":1.578,"p":3.70,"s":"3.0 µm/10.8 mW"},{"wl":1.593,"p":3.83,"s":"3.0 µm/10.8 mW"},{"wl":1.615,"p":3.94,"s":"3.0 µm/10.8 mW"},{"wl":1.637,"p":4.07,"s":"3.0 µm/10.8 mW"},{"wl":1.659,"p":4.55,"s":"3.0 µm/10.8 mW"},{"wl":1.680,"p":4.97,"s":"3.0 µm/10.8 mW"},{"wl":1.702,"p":5.18,"s":"3.0 µm/10.8 mW"},{"wl":1.724,"p":5.37,"s":"3.0 µm/10.8 mW"},{"wl":1.757,"p":5.50,"s":"3.0 µm/10.8 mW"},{"wl":1.800,"p":5.55,"s":"3.0 µm/10.8 mW"},{"wl":1.865,"p":5.56,"s":"3.0 µm/10.8 mW"},{"wl":1.930,"p":5.55,"s":"3.0 µm/10.8 mW"},{"wl":1.996,"p":5.47,"s":"3.0 µm/10.8 mW"},{"wl":2.039,"p":5.39,"s":"3.0 µm/10.8 mW"},{"wl":2.083,"p":5.26,"s":"3.0 µm/10.8 mW"},{"wl":2.126,"p":5.15,"s":"3.0 µm/10.8 mW"},{"wl":2.152,"p":5.12,"s":"3.0 µm/10.8 mW"},{"wl":2.191,"p":5.21,"s":"3.0 µm/10.8 mW"},{"wl":2.257,"p":5.37,"s":"3.0 µm/10.8 mW"},{"wl":2.300,"p":5.45,"s":"3.0 µm/10.8 mW"},{"wl":2.387,"p":5.58,"s":"3.0 µm/10.8 mW"},{"wl":2.474,"p":5.63,"s":"3.0 µm/10.8 mW"},{"wl":2.539,"p":5.65,"s":"3.0 µm/10.8 mW"},{"wl":2.604,"p":5.60,"s":"3.0 µm/10.8 mW"},{"wl":2.648,"p":5.58,"s":"3.0 µm/10.8 mW"},{"wl":2.670,"p":5.60,"s":"3.0 µm/10.8 mW"},{"wl":2.713,"p":5.50,"s":"3.0 µm/10.8 mW"},{"wl":2.757,"p":5.45,"s":"3.0 µm/10.8 mW"},{"wl":2.800,"p":5.34,"s":"3.0 µm/10.8 mW"},{"wl":2.822,"p":5.31,"s":"3.0 µm/10.8 mW"},{"wl":2.854,"p":5.37,"s":"3.0 µm/10.8 mW"},{"wl":2.887,"p":5.60,"s":"3.0 µm/10.8 mW"},{"wl":2.930,"p":5.76,"s":"3.0 µm/10.8 mW"},{"wl":2.974,"p":5.87,"s":"3.0 µm/10.8 mW"},{"wl":3.007,"p":5.98,"s":"3.0 µm/10.8 mW"},{"wl":3.039,"p":5.92,"s":"3.0 µm/10.8 mW"},{"wl":3.083,"p":5.84,"s":"3.0 µm/10.8 mW"},{"wl":3.126,"p":5.76,"s":"3.0 µm/10.8 mW"},{"wl":3.170,"p":5.58,"s":"3.0 µm/10.8 mW"},{"wl":3.213,"p":5.39,"s":"3.0 µm/10.8 mW"},{"wl":3.257,"p":5.60,"s":"3.0 µm/10.8 mW"},{"wl":3.300,"p":5.82,"s":"3.0 µm/10.8 mW"},{"wl":3.343,"p":5.95,"s":"3.0 µm/10.8 mW"},{"wl":3.387,"p":6.00,"s":"3.0 µm/10.8 mW"},{"wl":3.452,"p":6.03,"s":"3.0 µm/10.8 mW"},{"wl":3.517,"p":5.98,"s":"3.0 µm/10.8 mW"},{"wl":3.583,"p":5.87,"s":"3.0 µm/10.8 mW"},{"wl":3.626,"p":5.83,"s":"3.0 µm/10.8 mW"},{"wl":3.691,"p":5.71,"s":"3.0 µm/10.8 mW"},{"wl":3.800,"p":5.50,"s":"3.0 µm/10.8 mW"},{"wl":3.909,"p":5.29,"s":"3.0 µm/10.8 mW"},{"wl":4.017,"p":5.08,"s":"3.0 µm/10.8 mW"},{"wl":4.126,"p":4.84,"s":"3.0 µm/10.8 mW"},{"wl":4.191,"p":4.71,"s":"3.0 µm/10.8 mW"},{"wl":4.213,"p":4.57,"s":"3.0 µm/10.8 mW"},{"wl":4.235,"p":4.34,"s":"3.0 µm/10.8 mW"},{"wl":4.257,"p":4.22,"s":"3.0 µm/10.8 mW"},{"wl":4.300,"p":4.22,"s":"3.0 µm/10.8 mW"},{"wl":4.333,"p":4.34,"s":"3.0 µm/10.8 mW"},{"wl":4.376,"p":4.43,"s":"3.0 µm/10.8 mW"},{"wl":4.430,"p":4.36,"s":"3.0 µm/10.8 mW"},{"wl":4.474,"p":4.28,"s":"3.0 µm/10.8 mW"},{"wl":4.517,"p":4.23,"s":"3.0 µm/10.8 mW"},{"wl":4.561,"p":4.17,"s":"3.0 µm/10.8 mW"},{"wl":4.648,"p":4.15,"s":"3.0 µm/10.8 mW"},{"wl":4.735,"p":4.14,"s":"3.0 µm/10.8 mW"},{"wl":4.822,"p":4.18,"s":"3.0 µm/10.8 mW"},{"wl":4.909,"p":4.19,"s":"3.0 µm/10.8 mW"},{"wl":4.996,"p":4.19,"s":"3.0 µm/10.8 mW"},{"wl":5.126,"p":4.19,"s":"3.0 µm/10.8 mW"},{"wl":5.213,"p":4.19,"s":"3.0 µm/10.8 mW"},{"wl":5.257,"p":4.15,"s":"3.0 µm/10.8 mW"},{"wl":5.300,"p":4.07,"s":"3.0 µm/10.8 mW"},{"wl":5.365,"p":3.99,"s":"3.0 µm/10.8 mW"},{"wl":5.430,"p":3.89,"s":"3.0 µm/10.8 mW"},{"wl":5.500,"p":3.79,"s":"3.0 µm/10.8 mW"},

      {"wl":1.300,"p":2.55,"s":"2.9 µm/9.6 mW"},{"wl":1.322,"p":2.61,"s":"2.9 µm/9.6 mW"},{"wl":1.343,"p":2.49,"s":"2.9 µm/9.6 mW"},{"wl":1.365,"p":2.64,"s":"2.9 µm/9.6 mW"},{"wl":1.387,"p":2.46,"s":"2.9 µm/9.6 mW"},{"wl":1.409,"p":2.52,"s":"2.9 µm/9.6 mW"},{"wl":1.430,"p":2.40,"s":"2.9 µm/9.6 mW"},{"wl":1.452,"p":2.43,"s":"2.9 µm/9.6 mW"},{"wl":1.474,"p":2.52,"s":"2.9 µm/9.6 mW"},{"wl":1.485,"p":2.76,"s":"2.9 µm/9.6 mW"},{"wl":1.496,"p":2.49,"s":"2.9 µm/9.6 mW"},{"wl":1.517,"p":2.46,"s":"2.9 µm/9.6 mW"},{"wl":1.539,"p":2.52,"s":"2.9 µm/9.6 mW"},{"wl":1.561,"p":2.46,"s":"2.9 µm/9.6 mW"},{"wl":1.583,"p":2.58,"s":"2.9 µm/9.6 mW"},{"wl":1.604,"p":2.20,"s":"2.9 µm/9.6 mW"},{"wl":1.615,"p":2.46,"s":"2.9 µm/9.6 mW"},{"wl":1.626,"p":2.55,"s":"2.9 µm/9.6 mW"},{"wl":1.648,"p":2.67,"s":"2.9 µm/9.6 mW"},{"wl":1.670,"p":2.52,"s":"2.9 µm/9.6 mW"},{"wl":1.691,"p":2.31,"s":"2.9 µm/9.6 mW"},{"wl":1.713,"p":2.43,"s":"2.9 µm/9.6 mW"},{"wl":1.735,"p":2.34,"s":"2.9 µm/9.6 mW"},{"wl":1.757,"p":2.28,"s":"2.9 µm/9.6 mW"},{"wl":1.778,"p":2.58,"s":"2.9 µm/9.6 mW"},{"wl":1.800,"p":2.55,"s":"2.9 µm/9.6 mW"},{"wl":1.833,"p":2.88,"s":"2.9 µm/9.6 mW"},{"wl":1.865,"p":3.11,"s":"2.9 µm/9.6 mW"},{"wl":1.887,"p":3.11,"s":"2.9 µm/9.6 mW"},{"wl":1.930,"p":3.11,"s":"2.9 µm/9.6 mW"},{"wl":1.974,"p":3.17,"s":"2.9 µm/9.6 mW"},{"wl":1.996,"p":3.14,"s":"2.9 µm/9.6 mW"},{"wl":2.007,"p":3.23,"s":"2.9 µm/9.6 mW"},{"wl":2.039,"p":3.35,"s":"2.9 µm/9.6 mW"},{"wl":2.083,"p":3.41,"s":"2.9 µm/9.6 mW"},{"wl":2.126,"p":3.41,"s":"2.9 µm/9.6 mW"},{"wl":2.170,"p":3.38,"s":"2.9 µm/9.6 mW"},{"wl":2.213,"p":3.32,"s":"2.9 µm/9.6 mW"},{"wl":2.257,"p":3.29,"s":"2.9 µm/9.6 mW"},{"wl":2.300,"p":3.26,"s":"2.9 µm/9.6 mW"},{"wl":2.343,"p":3.17,"s":"2.9 µm/9.6 mW"},{"wl":2.376,"p":3.14,"s":"2.9 µm/9.6 mW"},{"wl":2.409,"p":3.35,"s":"2.9 µm/9.6 mW"},{"wl":2.452,"p":3.64,"s":"2.9 µm/9.6 mW"},{"wl":2.496,"p":3.85,"s":"2.9 µm/9.6 mW"},{"wl":2.539,"p":3.91,"s":"2.9 µm/9.6 mW"},{"wl":2.583,"p":3.88,"s":"2.9 µm/9.6 mW"},{"wl":2.648,"p":3.79,"s":"2.9 µm/9.6 mW"},{"wl":2.691,"p":3.64,"s":"2.9 µm/9.6 mW"},{"wl":2.735,"p":3.53,"s":"2.9 µm/9.6 mW"},{"wl":2.767,"p":3.41,"s":"2.9 µm/9.6 mW"},{"wl":2.800,"p":3.59,"s":"2.9 µm/9.6 mW"},{"wl":2.833,"p":3.88,"s":"2.9 µm/9.6 mW"},{"wl":2.865,"p":4.00,"s":"2.9 µm/9.6 mW"},{"wl":2.887,"p":3.91,"s":"2.9 µm/9.6 mW"},{"wl":2.909,"p":3.97,"s":"2.9 µm/9.6 mW"},{"wl":2.930,"p":3.88,"s":"2.9 µm/9.6 mW"},{"wl":2.952,"p":3.76,"s":"2.9 µm/9.6 mW"},{"wl":2.974,"p":3.53,"s":"2.9 µm/9.6 mW"},{"wl":3.007,"p":3.38,"s":"2.9 µm/9.6 mW"},{"wl":3.039,"p":3.35,"s":"2.9 µm/9.6 mW"},{"wl":3.083,"p":3.50,"s":"2.9 µm/9.6 mW"},{"wl":3.126,"p":3.64,"s":"2.9 µm/9.6 mW"},{"wl":3.170,"p":3.76,"s":"2.9 µm/9.6 mW"},{"wl":3.213,"p":3.85,"s":"2.9 µm/9.6 mW"},{"wl":3.257,"p":3.91,"s":"2.9 µm/9.6 mW"},{"wl":3.300,"p":3.91,"s":"2.9 µm/9.6 mW"},{"wl":3.365,"p":3.85,"s":"2.9 µm/9.6 mW"},{"wl":3.430,"p":3.76,"s":"2.9 µm/9.6 mW"},{"wl":3.474,"p":3.67,"s":"2.9 µm/9.6 mW"},{"wl":3.539,"p":3.56,"s":"2.9 µm/9.6 mW"},{"wl":3.583,"p":3.47,"s":"2.9 µm/9.6 mW"},{"wl":3.626,"p":3.41,"s":"2.9 µm/9.6 mW"},{"wl":3.691,"p":3.26,"s":"2.9 µm/9.6 mW"},{"wl":3.757,"p":3.08,"s":"2.9 µm/9.6 mW"},{"wl":3.822,"p":2.93,"s":"2.9 µm/9.6 mW"},{"wl":3.887,"p":2.85,"s":"2.9 µm/9.6 mW"},{"wl":3.952,"p":2.76,"s":"2.9 µm/9.6 mW"},{"wl":4.017,"p":2.70,"s":"2.9 µm/9.6 mW"},{"wl":4.083,"p":2.64,"s":"2.9 µm/9.6 mW"},{"wl":4.148,"p":2.58,"s":"2.9 µm/9.6 mW"},{"wl":4.191,"p":2.52,"s":"2.9 µm/9.6 mW"},{"wl":4.213,"p":2.43,"s":"2.9 µm/9.6 mW"},{"wl":4.257,"p":2.31,"s":"2.9 µm/9.6 mW"},{"wl":4.289,"p":2.34,"s":"2.9 µm/9.6 mW"},{"wl":4.311,"p":2.25,"s":"2.9 µm/9.6 mW"},{"wl":4.333,"p":2.43,"s":"2.9 µm/9.6 mW"},{"wl":4.354,"p":2.22,"s":"2.9 µm/9.6 mW"},{"wl":4.376,"p":2.02,"s":"2.9 µm/9.6 mW"},{"wl":4.398,"p":2.20,"s":"2.9 µm/9.6 mW"},{"wl":4.420,"p":2.40,"s":"2.9 µm/9.6 mW"},{"wl":4.441,"p":2.20,"s":"2.9 µm/9.6 mW"},{"wl":4.463,"p":2.28,"s":"2.9 µm/9.6 mW"},{"wl":4.496,"p":2.02,"s":"2.9 µm/9.6 mW"},{"wl":4.517,"p":2.22,"s":"2.9 µm/9.6 mW"},{"wl":4.539,"p":2.34,"s":"2.9 µm/9.6 mW"},{"wl":4.561,"p":2.43,"s":"2.9 µm/9.6 mW"},{"wl":4.593,"p":2.22,"s":"2.9 µm/9.6 mW"},{"wl":4.615,"p":2.17,"s":"2.9 µm/9.6 mW"},{"wl":4.637,"p":2.34,"s":"2.9 µm/9.6 mW"},{"wl":4.670,"p":2.34,"s":"2.9 µm/9.6 mW"},{"wl":4.696,"p":2.40,"s":"2.9 µm/9.6 mW"},{"wl":4.717,"p":0.28,"s":"2.9 µm/9.6 mW"},{"wl":4.735,"p":2.40,"s":"2.9 µm/9.6 mW"},{"wl":4.767,"p":2.46,"s":"2.9 µm/9.6 mW"},{"wl":4.789,"p":2.28,"s":"2.9 µm/9.6 mW"},{"wl":4.817,"p":1.78,"s":"2.9 µm/9.6 mW"},{"wl":4.839,"p":2.40,"s":"2.9 µm/9.6 mW"},{"wl":4.865,"p":2.49,"s":"2.9 µm/9.6 mW"},{"wl":4.887,"p":2.28,"s":"2.9 µm/9.6 mW"},{"wl":4.913,"p":2.02,"s":"2.9 µm/9.6 mW"},{"wl":4.930,"p":2.17,"s":"2.9 µm/9.6 mW"},{"wl":4.943,"p":2.11,"s":"2.9 µm/9.6 mW"},{"wl":4.957,"p":0.28,"s":"2.9 µm/9.6 mW"},{"wl":4.974,"p":2.40,"s":"2.9 µm/9.6 mW"},{"wl":4.996,"p":2.28,"s":"2.9 µm/9.6 mW"},

      {"wl":1.300,"p":0.36,"s":"2.7 µm/8.8 mW"},{"wl":1.322,"p":0.33,"s":"2.7 µm/8.8 mW"},{"wl":1.343,"p":0.39,"s":"2.7 µm/8.8 mW"},{"wl":1.365,"p":0.30,"s":"2.7 µm/8.8 mW"},{"wl":1.387,"p":0.36,"s":"2.7 µm/8.8 mW"},{"wl":1.404,"p":0.09,"s":"2.7 µm/8.8 mW"},{"wl":1.420,"p":0.39,"s":"2.7 µm/8.8 mW"},{"wl":1.441,"p":0.33,"s":"2.7 µm/8.8 mW"},{"wl":1.459,"p":0.09,"s":"2.7 µm/8.8 mW"},{"wl":1.474,"p":0.36,"s":"2.7 µm/8.8 mW"},{"wl":1.496,"p":0.39,"s":"2.7 µm/8.8 mW"},{"wl":1.517,"p":0.33,"s":"2.7 µm/8.8 mW"},{"wl":1.539,"p":0.30,"s":"2.7 µm/8.8 mW"},{"wl":1.561,"p":0.33,"s":"2.7 µm/8.8 mW"},{"wl":1.583,"p":0.39,"s":"2.7 µm/8.8 mW"},{"wl":1.604,"p":0.30,"s":"2.7 µm/8.8 mW"},{"wl":1.626,"p":0.27,"s":"2.7 µm/8.8 mW"},{"wl":1.648,"p":0.39,"s":"2.7 µm/8.8 mW"},{"wl":1.670,"p":0.45,"s":"2.7 µm/8.8 mW"},{"wl":1.680,"p":0.30,"s":"2.7 µm/8.8 mW"},{"wl":1.702,"p":0.33,"s":"2.7 µm/8.8 mW"},{"wl":1.735,"p":0.27,"s":"2.7 µm/8.8 mW"},{"wl":1.746,"p":0.15,"s":"2.7 µm/8.8 mW"},{"wl":1.767,"p":0.33,"s":"2.7 µm/8.8 mW"},{"wl":1.800,"p":0.33,"s":"2.7 µm/8.8 mW"},{"wl":1.833,"p":0.36,"s":"2.7 µm/8.8 mW"},{"wl":1.854,"p":0.33,"s":"2.7 µm/8.8 mW"},{"wl":1.876,"p":0.39,"s":"2.7 µm/8.8 mW"},{"wl":1.898,"p":0.36,"s":"2.7 µm/8.8 mW"},{"wl":1.920,"p":0.42,"s":"2.7 µm/8.8 mW"},{"wl":1.941,"p":0.24,"s":"2.7 µm/8.8 mW"},{"wl":1.963,"p":0.21,"s":"2.7 µm/8.8 mW"},{"wl":1.985,"p":0.30,"s":"2.7 µm/8.8 mW"},{"wl":2.007,"p":0.51,"s":"2.7 µm/8.8 mW"},{"wl":2.028,"p":0.57,"s":"2.7 µm/8.8 mW"},{"wl":2.061,"p":0.72,"s":"2.7 µm/8.8 mW"},{"wl":2.083,"p":0.66,"s":"2.7 µm/8.8 mW"},{"wl":2.104,"p":0.57,"s":"2.7 µm/8.8 mW"},{"wl":2.137,"p":0.42,"s":"2.7 µm/8.8 mW"},{"wl":2.170,"p":0.33,"s":"2.7 µm/8.8 mW"},{"wl":2.187,"p":0.18,"s":"2.7 µm/8.8 mW"},{"wl":2.202,"p":0.36,"s":"2.7 µm/8.8 mW"},{"wl":2.224,"p":0.33,"s":"2.7 µm/8.8 mW"},{"wl":2.257,"p":0.51,"s":"2.7 µm/8.8 mW"},{"wl":2.300,"p":0.72,"s":"2.7 µm/8.8 mW"},{"wl":2.343,"p":0.98,"s":"2.7 µm/8.8 mW"},{"wl":2.376,"p":1.13,"s":"2.7 µm/8.8 mW"},{"wl":2.409,"p":1.22,"s":"2.7 µm/8.8 mW"},{"wl":2.441,"p":1.40,"s":"2.7 µm/8.8 mW"},{"wl":2.474,"p":1.54,"s":"2.7 µm/8.8 mW"},{"wl":2.517,"p":1.70,"s":"2.7 µm/8.8 mW"},{"wl":2.561,"p":1.81,"s":"2.7 µm/8.8 mW"},{"wl":2.604,"p":1.90,"s":"2.7 µm/8.8 mW"},{"wl":2.637,"p":1.99,"s":"2.7 µm/8.8 mW"},{"wl":2.670,"p":1.96,"s":"2.7 µm/8.8 mW"},{"wl":2.702,"p":1.92,"s":"2.7 µm/8.8 mW"},{"wl":2.735,"p":1.81,"s":"2.7 µm/8.8 mW"},{"wl":2.778,"p":1.72,"s":"2.7 µm/8.8 mW"},{"wl":2.833,"p":1.54,"s":"2.7 µm/8.8 mW"},{"wl":2.865,"p":1.34,"s":"2.7 µm/8.8 mW"},{"wl":2.898,"p":1.07,"s":"2.7 µm/8.8 mW"},{"wl":2.930,"p":0.89,"s":"2.7 µm/8.8 mW"},{"wl":2.952,"p":0.83,"s":"2.7 µm/8.8 mW"},{"wl":2.974,"p":0.80,"s":"2.7 µm/8.8 mW"},{"wl":3.017,"p":0.78,"s":"2.7 µm/8.8 mW"},{"wl":3.039,"p":0.63,"s":"2.7 µm/8.8 mW"},{"wl":3.083,"p":0.51,"s":"2.7 µm/8.8 mW"},{"wl":3.126,"p":0.42,"s":"2.7 µm/8.8 mW"},{"wl":3.148,"p":0.39,"s":"2.7 µm/8.8 mW"},{"wl":3.170,"p":0.21,"s":"2.7 µm/8.8 mW"},{"wl":3.191,"p":0.01,"s":"2.7 µm/8.8 mW"},{"wl":3.213,"p":0.12,"s":"2.7 µm/8.8 mW"},{"wl":3.246,"p":0.18,"s":"2.7 µm/8.8 mW"},{"wl":3.278,"p":0.09,"s":"2.7 µm/8.8 mW"},{"wl":3.322,"p":0.15,"s":"2.7 µm/8.8 mW"},{"wl":3.354,"p":-0.14,"s":"2.7 µm/8.8 mW"},{"wl":3.365,"p":0.04,"s":"2.7 µm/8.8 mW"},{"wl":3.387,"p":0.15,"s":"2.7 µm/8.8 mW"},{"wl":3.409,"p":0.09,"s":"2.7 µm/8.8 mW"},{"wl":3.430,"p":0.21,"s":"2.7 µm/8.8 mW"},{"wl":3.452,"p":0.12,"s":"2.7 µm/8.8 mW"},{"wl":3.463,"p":0.21,"s":"2.7 µm/8.8 mW"},{"wl":3.485,"p":0.15,"s":"2.7 µm/8.8 mW"},{"wl":3.507,"p":0.24,"s":"2.7 µm/8.8 mW"},{"wl":3.528,"p":0.15,"s":"2.7 µm/8.8 mW"},{"wl":3.550,"p":0.21,"s":"2.7 µm/8.8 mW"},{"wl":3.561,"p":0.09,"s":"2.7 µm/8.8 mW"},{"wl":3.572,"p":-0.55,"s":"2.7 µm/8.8 mW"},{"wl":3.587,"p":-0.55,"s":"2.7 µm/8.8 mW"},{"wl":3.600,"p":0.03,"s":"2.7 µm/8.8 mW"}
    ],
    "b_labels": [
      {"wl":3.963,"p":7.80,"t":"3.3 µm/10.1 mW"},
      {"wl":3.963,"p":5.48,"t":"3.0 µm/10.8 mW"},
      {"wl":3.963,"p":3.25,"t":"2.9 µm/9.6 mW"},
      {"wl":3.963,"p":0.00,"t":"2.7 µm/8.8 mW"}
    ],
    "b_letter": [
      {"wl":1.039,"p":8.82,"t":"b"}
    ]
  },
  "vconcat": [
    {
      "width": 643, "height": 536,
      "layer": [
        {
          "data": {"name": "a_curves"},
          "mark": {"type": "line", "strokeWidth": 2, "clip": true},
          "encoding": {
            "x": {"field": "wl", "type": "quantitative", "scale": {"domain": [1.3, 5.5], "nice": false, "zero": false},
                  "axis": {"orient": "bottom", "values": [1.3, 2.3, 3.3, 4.3, 5.3], "format": ".1f", "grid": true, "title": "Wavelength (µm)", "titlePadding": 12}},
            "y": {"field": "p", "type": "quantitative", "scale": {"domain": [-0.5, 8], "nice": false, "zero": false},
                  "axis": {"orient": "left", "values": [0, 1, 2, 3, 4, 5, 6, 7, 8], "labels": false, "grid": true, "title": "Power (20 dB/div)", "titlePadding": 12}},
            "color": {"field": "s", "type": "nominal", "legend": null,
                      "scale": {"domain": ["10.8 mW", "8.75 mW", "6.25 mW", "4.17 mW", "2.08 mW", "0.4 mW"],
                                "range": ["#ff0000", "#dc5a1e", "#c9c800", "#008000", "#c400c4", "#000000"]}}
          }
        },
        {
          "data": {"name": "a_labels"},
          "mark": {"type": "text", "align": "left", "baseline": "middle", "fontSize": 26, "font": "Liberation Sans"},
          "encoding": {
            "x": {"field": "wl", "type": "quantitative", "scale": {"domain": [1.3, 5.5], "nice": false, "zero": false},
                  "axis": {"orient": "top", "values": [1.3, 2.3, 3.3, 4.3, 5.3], "labels": false, "grid": false, "title": null}},
            "y": {"field": "p", "type": "quantitative", "scale": {"domain": [-0.5, 8], "nice": false, "zero": false},
                  "axis": {"orient": "right", "values": [0, 1, 2, 3, 4, 5, 6, 7, 8], "labels": false, "grid": false, "title": null}},
            "text": {"field": "t"},
            "color": {"field": "t", "type": "nominal", "legend": null,
                      "scale": {"domain": ["10.8 mW", "8.75 mW", "6.25 mW", "4.17 mW", "2.08 mW", "0.4 mW"],
                                "range": ["#ec4853", "#e07e1a", "#c4c000", "#008000", "#c400c4", "#000000"]}}
          }
        },
        {
          "data": {"name": "a_notes"},
          "mark": {"type": "text", "align": "center", "baseline": "middle", "fontSize": 26, "font": "Liberation Sans", "color": "#000000"},
          "encoding": {
            "x": {"field": "wl", "type": "quantitative", "scale": {"domain": [1.3, 5.5], "nice": false, "zero": false}, "axis": null},
            "y": {"field": "p", "type": "quantitative", "scale": {"domain": [-0.5, 8], "nice": false, "zero": false}, "axis": null},
            "text": {"field": "t"}
          }
        },
        {
          "data": {"name": "a_letter"},
          "mark": {"type": "text", "align": "left", "baseline": "alphabetic", "fontSize": 38, "fontWeight": "bold", "font": "Liberation Sans", "color": "#000000"},
          "encoding": {
            "x": {"field": "wl", "type": "quantitative", "scale": {"domain": [1.3, 5.5], "nice": false, "zero": false}, "axis": null},
            "y": {"field": "p", "type": "quantitative", "scale": {"domain": [-0.5, 8], "nice": false, "zero": false}, "axis": null},
            "text": {"field": "t"}
          }
        }
      ],
      "resolve": {"scale": {"color": "independent"}, "axis": {"x": "independent", "y": "independent"}}
    },
    {
      "width": 643, "height": 536,
      "layer": [
        {
          "data": {"name": "b_curves"},
          "mark": {"type": "line", "strokeWidth": 2, "clip": true},
          "encoding": {
            "x": {"field": "wl", "type": "quantitative", "scale": {"domain": [1.3, 5.5], "nice": false, "zero": false},
                  "axis": {"orient": "bottom", "values": [1.3, 2.3, 3.3, 4.3, 5.3], "format": ".1f", "grid": true, "title": "Wavelength (µm)", "titlePadding": 12}},
            "y": {"field": "p", "type": "quantitative", "scale": {"domain": [-0.5, 9], "nice": false, "zero": false},
                  "axis": {"orient": "left", "values": [0, 1, 2, 3, 4, 5, 6, 7, 8, 9], "labels": false, "grid": true, "title": "Power (20 dB/div)", "titlePadding": 12}},
            "color": {"field": "s", "type": "nominal", "legend": null,
                      "scale": {"domain": ["3.3 µm/10.1 mW", "3.0 µm/10.8 mW", "2.9 µm/9.6 mW", "2.7 µm/8.8 mW"],
                                "range": ["#0000ff", "#ff0000", "#3a9f2a", "#000000"]}}
          }
        },
        {
          "data": {"name": "b_labels"},
          "mark": {"type": "text", "align": "left", "baseline": "middle", "fontSize": 26, "font": "Liberation Sans"},
          "encoding": {
            "x": {"field": "wl", "type": "quantitative", "scale": {"domain": [1.3, 5.5], "nice": false, "zero": false},
                  "axis": {"orient": "top", "values": [1.3, 2.3, 3.3, 4.3, 5.3], "labels": false, "grid": false, "title": null}},
            "y": {"field": "p", "type": "quantitative", "scale": {"domain": [-0.5, 9], "nice": false, "zero": false},
                  "axis": {"orient": "right", "values": [0, 1, 2, 3, 4, 5, 6, 7, 8, 9], "labels": false, "grid": false, "title": null}},
            "text": {"field": "t"},
            "color": {"field": "t", "type": "nominal", "legend": null,
                      "scale": {"domain": ["3.3 µm/10.1 mW", "3.0 µm/10.8 mW", "2.9 µm/9.6 mW", "2.7 µm/8.8 mW"],
                                "range": ["#0000ff", "#ff0000", "#3a9f2a", "#000000"]}}
          }
        },
        {
          "data": {"name": "b_letter"},
          "mark": {"type": "text", "align": "left", "baseline": "alphabetic", "fontSize": 38, "fontWeight": "bold", "font": "Liberation Sans", "color": "#000000"},
          "encoding": {
            "x": {"field": "wl", "type": "quantitative", "scale": {"domain": [1.3, 5.5], "nice": false, "zero": false}, "axis": null},
            "y": {"field": "p", "type": "quantitative", "scale": {"domain": [-0.5, 9], "nice": false, "zero": false}, "axis": null},
            "text": {"field": "t"}
          }
        }
      ],
      "resolve": {"scale": {"color": "independent"}, "axis": {"x": "independent", "y": "independent"}}
    }
  ]
}
